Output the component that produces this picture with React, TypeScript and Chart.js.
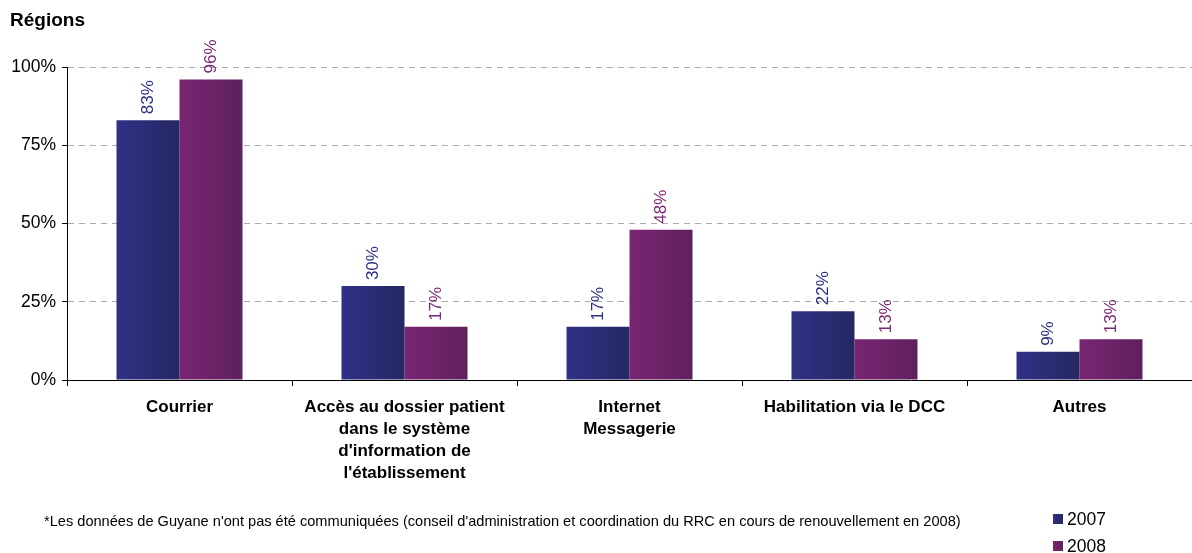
import React, { useEffect, useRef } from "react";
import { Chart, registerables } from "chart.js";

Chart.register(...registerables);

const categories: (string | string[])[] = [
  "Courrier",
  ["Accès au dossier patient", "dans le système", "d'information de", "l'établissement"],
  ["Internet", "Messagerie"],
  "Habilitation via le DCC",
  "Autres",
];
const values2007 = [83, 30, 17, 22, 9];
const values2008 = [96, 17, 48, 13, 13];
const seriesNames = ["2007", "2008"];
const yTicks = [0, 25, 50, 75, 100];
const titleText = "Régions";
const footnote =
  "*Les données de Guyane n'ont pas été communiquées (conseil d'administration et coordination du RRC en cours de renouvellement en 2008)";

const FONT = "'Liberation Sans', Arial, sans-serif";
const CAT_PCT = 0.56;
const grad = [
  ["#2F3186", "#262763"],
  ["#7A2572", "#5E215E"],
];
const labelColors = ["#2E3082", "#7B2A74"];

export default function App() {
  const ref = useRef<HTMLCanvasElement>(null);
  useEffect(() => {
    document.body.style.margin = "0";
    const canvas = ref.current!;
    const mkBg = (di: number) => (ctx: any) => {
      const chart = ctx.chart;
      const xs = chart.scales?.x;
      if (!xs || ctx.type !== "data" || !isFinite(xs.width) || xs.width <= 0) return grad[di][0];
      const c = xs.getPixelForValue(ctx.dataIndex);
      const bw = (xs.width / categories.length) * CAT_PCT / 2;
      const x0 = di === 0 ? c - bw : c;
      const g = chart.ctx.createLinearGradient(x0, 0, x0 + bw, 0);
      g.addColorStop(0, grad[di][0]);
      g.addColorStop(1, grad[di][1]);
      return g;
    };
    const overlay = {
      id: "overlay",
      afterDatasetsDraw(chart: any) {
        const ctx = chart.ctx;
        ctx.save();
        ctx.font = `17px ${FONT}`;
        chart.data.datasets.forEach((ds: any, di: number) => {
          const meta = chart.getDatasetMeta(di);
          meta.data.forEach((bar: any, i: number) => {
            ctx.save();
            ctx.translate(bar.x, bar.y - 6);
            ctx.rotate(-Math.PI / 2);
            ctx.fillStyle = labelColors[di];
            ctx.textAlign = "left";
            ctx.textBaseline = "middle";
            ctx.fillText(ds.data[i] + "%", 0, 0);
            ctx.restore();
          });
        });
        ctx.restore();
      },
      afterDraw(chart: any) {
        const ctx = chart.ctx;
        ctx.save();
        ctx.fillStyle = "#000";
        ctx.textBaseline = "middle";
        ctx.textAlign = "left";
        ctx.font = `bold 19px ${FONT}`;
        ctx.fillText(titleText, 10, 21);
        ctx.font = `14.6px ${FONT}`;
        ctx.fillText(footnote, 44, 522);
        ctx.font = `17.5px ${FONT}`;
        seriesNames.forEach((n, i) => {
          const y = 519 + i * 27;
          const g = ctx.createLinearGradient(1053, 0, 1063, 0);
          g.addColorStop(0, grad[i][0]);
          g.addColorStop(1, grad[i][1]);
          ctx.fillStyle = g;
          ctx.fillRect(1053, y - 5, 10, 10);
          ctx.fillStyle = "#000";
          ctx.fillText(n, 1067, y + 1);
        });
        ctx.restore();
      },
    };
    const chart = new Chart(canvas, {
      type: "bar",
      data: {
        labels: categories,
        datasets: [
          { label: seriesNames[0], data: values2007, backgroundColor: mkBg(0) as any, borderWidth: 0, categoryPercentage: CAT_PCT, barPercentage: 1 },
          { label: seriesNames[1], data: values2008, backgroundColor: mkBg(1) as any, borderWidth: 0, categoryPercentage: CAT_PCT, barPercentage: 1 },
        ],
      },
      options: {
        animation: false,
        responsive: false,
        maintainAspectRatio: false,
        layout: { padding: { top: 67, right: 0, left: 0, bottom: 0 } },
        plugins: { legend: { display: false }, tooltip: { enabled: false } },
        scales: {
          x: {
            grid: { display: true, drawOnChartArea: false, tickColor: "#000", tickLength: 6, offset: true },
            border: { display: true, color: "#000", width: 1 },
            ticks: {
              color: "#000",
              font: { family: FONT, size: 17, weight: "bold", lineHeight: 1.3 },
              padding: 10,
              maxRotation: 0,
              minRotation: 0,
              autoSkip: false,
            },
            afterFit: (s: any) => {
              s.height = 553 - 380;
            },
          },
          y: {
            min: 0,
            max: 100,
            afterBuildTicks: (s: any) => {
              s.ticks = yTicks.map((v) => ({ value: v }));
            },
            grid: { color: "#AAAAAA", lineWidth: 1, tickColor: "#000", tickLength: 5 },
            border: { display: true, color: "#000", width: 1, dash: [6, 5] },
            ticks: {
              color: "#000",
              font: { family: FONT, size: 17.5 },
              padding: 6,
              callback: (v: any) => v + "%",
            },
            afterFit: (s: any) => {
              s.width = 67;
            },
          },
        },
      },
      plugins: [overlay],
    });
    return () => chart.destroy();
  }, []);
  return (
    <div style={{ position: "absolute", left: 0, top: 0, width: 1192, height: 553 }}>
      <canvas ref={ref} width={1192} height={553} style={{ width: 1192, height: 553 }} />
    </div>
  );
}
